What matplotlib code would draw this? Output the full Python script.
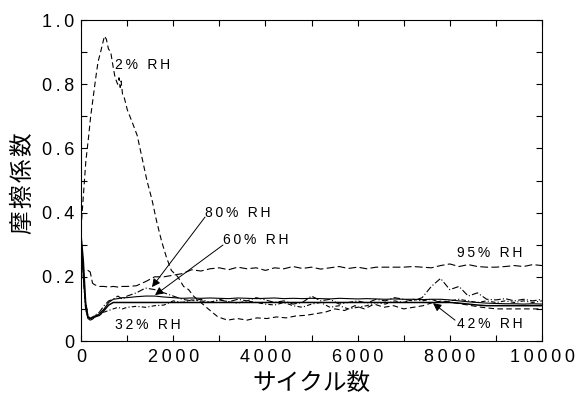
import numpy as np
import matplotlib
matplotlib.use("Agg")
import matplotlib.pyplot as plt
from matplotlib.ticker import MultipleLocator, FuncFormatter

plt.rcParams['font.family'] = ['Liberation Sans', 'DejaVu Sans', 'Noto Sans CJK JP']

# ---------------- data ----------------
x_label = "サイクル数"
y_label = "摩擦係数"

# 2% RH (finer sampling around the peak)
x_rh2 = [0, 50, 105, 160, 210, 265, 320, 370, 425, 475, 510, 550, 595, 645, 690,
         740, 795, 825, 850, 870, 900, 935, 1005, 1115, 1220, 1325, 1430, 1540,
         1645, 1750, 1855, 1960, 2100, 2225, 2335, 2440, 2600, 2760, 2970, 3180,
         3390, 3600, 3820, 4030, 4240, 4450, 4660, 4880, 5090, 5300, 5510, 5720,
         5940, 6150, 6360, 6570, 6780, 7000, 7210, 7420, 7630, 7840, 8060, 8270,
         8480, 8690, 9010, 9330, 9540, 9860, 10000]
y_rh2 = [0.35, 0.45, 0.56, 0.63, 0.70, 0.76, 0.82, 0.87, 0.90, 0.93, 0.95, 0.94,
         0.91, 0.90, 0.86, 0.82, 0.80, 0.82, 0.79, 0.81, 0.77, 0.76, 0.72, 0.68,
         0.64, 0.57, 0.50, 0.44, 0.37, 0.31, 0.26, 0.22, 0.20, 0.17, 0.16, 0.14,
         0.12, 0.10, 0.075, 0.065, 0.07, 0.065, 0.072, 0.07, 0.075, 0.072, 0.078,
         0.08, 0.085, 0.09, 0.10, 0.095, 0.11, 0.10, 0.115, 0.105, 0.11, 0.10,
         0.105, 0.11, 0.12, 0.125, 0.12, 0.115, 0.11, 0.105, 0.10, 0.10, 0.10,
         0.10, 0.10]

# common cycle grid for the other humidities
x_grid = [0, 50, 100, 150, 200, 250, 300, 400, 500, 600, 700, 800, 900,
          1000, 1200, 1400, 1600, 1800, 2000, 2200, 2400, 2600, 2800, 3000,
          3200, 3400, 3600, 3800, 4000, 4200, 4400, 4600, 4800, 5000, 5200,
          5400, 5600, 5800, 6000, 6200, 6400, 6600, 6800, 7000, 7200, 7400,
          7600, 7800, 8000, 8200, 8400, 8600, 8800, 9000, 9200, 9400, 9600,
          9800, 10000]

y_rh95 = [0.24, 0.22, 0.22, 0.22, 0.215, 0.18, 0.175, 0.17, 0.17, 0.168, 0.17,
          0.168, 0.17, 0.17, 0.172, 0.185, 0.20, 0.20, 0.205, 0.21, 0.222, 0.218,
          0.225, 0.228, 0.222, 0.23, 0.225, 0.228, 0.22, 0.228, 0.225, 0.232,
          0.226, 0.23, 0.224, 0.228, 0.232, 0.226, 0.23, 0.225, 0.23, 0.23, 0.23,
          0.23, 0.232, 0.23, 0.228, 0.235, 0.24, 0.232, 0.238, 0.232, 0.23, 0.23,
          0.232, 0.235, 0.232, 0.238, 0.235]

y_rh80 = [0.34, 0.22, 0.12, 0.08, 0.07, 0.075, 0.08, 0.09, 0.11, 0.125, 0.13,
          0.14, 0.13, 0.14, 0.15, 0.165, 0.16, 0.15, 0.14, 0.13, 0.125, 0.13,
          0.12, 0.128, 0.122, 0.13, 0.125, 0.135, 0.128, 0.12, 0.125, 0.115,
          0.12, 0.14, 0.125, 0.13, 0.115, 0.12, 0.125, 0.118, 0.13, 0.125, 0.135,
          0.13, 0.125, 0.135, 0.17, 0.195, 0.16, 0.17, 0.14, 0.15, 0.13, 0.128,
          0.132, 0.125, 0.13, 0.125, 0.13]

y_rh60 = [0.32, 0.20, 0.10, 0.07, 0.065, 0.068, 0.075, 0.085, 0.10, 0.12, 0.13,
          0.132, 0.135, 0.135, 0.138, 0.14, 0.14, 0.137, 0.135, 0.133, 0.134,
          0.133, 0.134, 0.133, 0.132, 0.134, 0.133, 0.132, 0.133, 0.134, 0.132,
          0.133, 0.132, 0.133, 0.132, 0.131, 0.133, 0.132, 0.131, 0.132, 0.131,
          0.13, 0.131, 0.13, 0.13, 0.129, 0.13, 0.13, 0.128, 0.125, 0.122,
          0.12, 0.118, 0.117, 0.116, 0.116, 0.115, 0.116, 0.115]

y_rh42 = [0.33, 0.25, 0.12, 0.075, 0.07, 0.072, 0.075, 0.08, 0.095, 0.112, 0.12,
          0.12, 0.12, 0.12, 0.12, 0.12, 0.12, 0.12, 0.12, 0.12, 0.12, 0.12,
          0.12, 0.12, 0.12, 0.12, 0.12, 0.12, 0.12, 0.12, 0.12, 0.12, 0.12,
          0.12, 0.12, 0.12, 0.12, 0.12, 0.12, 0.12, 0.12, 0.12, 0.12, 0.12,
          0.12, 0.12, 0.12, 0.12, 0.12, 0.118, 0.115, 0.112, 0.11, 0.11, 0.11,
          0.11, 0.11, 0.11, 0.11]

y_rh32 = [0.30, 0.20, 0.10, 0.075, 0.07, 0.075, 0.078, 0.082, 0.09, 0.095, 0.10,
          0.105, 0.10, 0.105, 0.108, 0.105, 0.11, 0.112, 0.125, 0.12, 0.128,
          0.125, 0.12, 0.13, 0.122, 0.118, 0.125, 0.12, 0.115, 0.112, 0.12,
          0.11, 0.105, 0.115, 0.12, 0.105, 0.11, 0.10, 0.105, 0.11, 0.12, 0.115,
          0.125, 0.12, 0.13, 0.125, 0.13, 0.12, 0.125, 0.13, 0.125, 0.12, 0.125,
          0.12, 0.125, 0.12, 0.125, 0.12, 0.125]

x_ticks = [0, 2000, 4000, 6000, 8000, 10000]
y_ticks = [0, 0.2, 0.4, 0.6, 0.8, 1.0]
y_tick_labels = ["0", "0.2", "0.4", "0.6", "0.8", "1.0"]

rh_labels = ["2% RH", "95% RH", "80% RH", "60% RH", "42% RH", "32% RH"]


def spaced(s, sep="\u2009"):
    return sep.join(s)


# ---------------- figure ----------------
fig = plt.figure(figsize=(5.79, 3.96), dpi=100)
ax = fig.add_axes([81 / 579, 55 / 396, 461 / 579, 321 / 396])

lw = 0.8
ax.plot(x_rh2, y_rh2, color='k', lw=lw, ls=(0, (5, 3)))
ax.plot(x_grid, y_rh95, color='k', lw=lw, ls=(0, (7, 3)))
ax.plot(x_grid, y_rh80, color='k', lw=lw, ls=(0, (6, 2, 1, 2)))
ax.plot(x_grid, y_rh60, color='k', lw=lw, ls='-')
ax.plot(x_grid, y_rh42, color='k', lw=1.1, ls='-')
ax.plot(x_grid, y_rh32, color='k', lw=lw, ls=(0, (4, 2, 1, 2)))

ax.set_xlim(0, 10000)
ax.set_ylim(0, 1.0)
ax.set_xticks(x_ticks)
ax.set_yticks(y_ticks)
ax.xaxis.set_major_formatter(FuncFormatter(lambda v, p: spaced(f"{int(round(v))}")))
ax.set_yticklabels([spaced(t) for t in y_tick_labels])
ax.xaxis.set_minor_locator(MultipleLocator(1000))
ax.yaxis.set_minor_locator(MultipleLocator(0.1))
ax.tick_params(which='both', direction='in', top=True, right=True,
               length=4, width=0.8, labelsize=13)
ax.tick_params(axis='x', pad=6)
ax.tick_params(axis='y', pad=5)
for s in ax.spines.values():
    s.set_linewidth(0.8)

ax.set_xlabel(x_label, fontsize=17, family=['Noto Sans CJK JP', 'DejaVu Sans'])
ax.set_ylabel(spaced(y_label, "\u200a"), fontsize=17,
              family=['Noto Sans CJK JP', 'DejaVu Sans'])
ax.xaxis.set_label_coords(0.499, -0.097)
ax.yaxis.set_label_coords(-0.10, 0.492)
ax.xaxis.label.set_va('top')

fs = 10
arrow = dict(arrowstyle='-|>', color='k', lw=0.7, mutation_scale=12,
             shrinkA=0, shrinkB=0)
ax.text(738, 0.86, spaced(rh_labels[0]), fontsize=fs, ha='left', va='center')
ax.text(8156, 0.274, spaced(rh_labels[1]), fontsize=fs, ha='left', va='center')
ax.text(738, 0.05, spaced(rh_labels[5]), fontsize=fs, ha='left', va='center')
ax.text(2690, 0.40, spaced(rh_labels[2]), fontsize=fs, ha='left', va='center')
ax.annotate("", xy=(1540, 0.168), xytext=(2690, 0.386), arrowprops=arrow)
ax.text(3080, 0.315, spaced(rh_labels[3]), fontsize=fs, ha='left', va='center')
ax.annotate("", xy=(1605, 0.143), xytext=(3080, 0.299), arrowprops=arrow)
ax.text(8156, 0.053, spaced(rh_labels[4]), fontsize=fs, ha='left', va='center')
ax.annotate("", xy=(7636, 0.118), xytext=(8113, 0.065), arrowprops=arrow)

fig.savefig("out.png", dpi=100)
